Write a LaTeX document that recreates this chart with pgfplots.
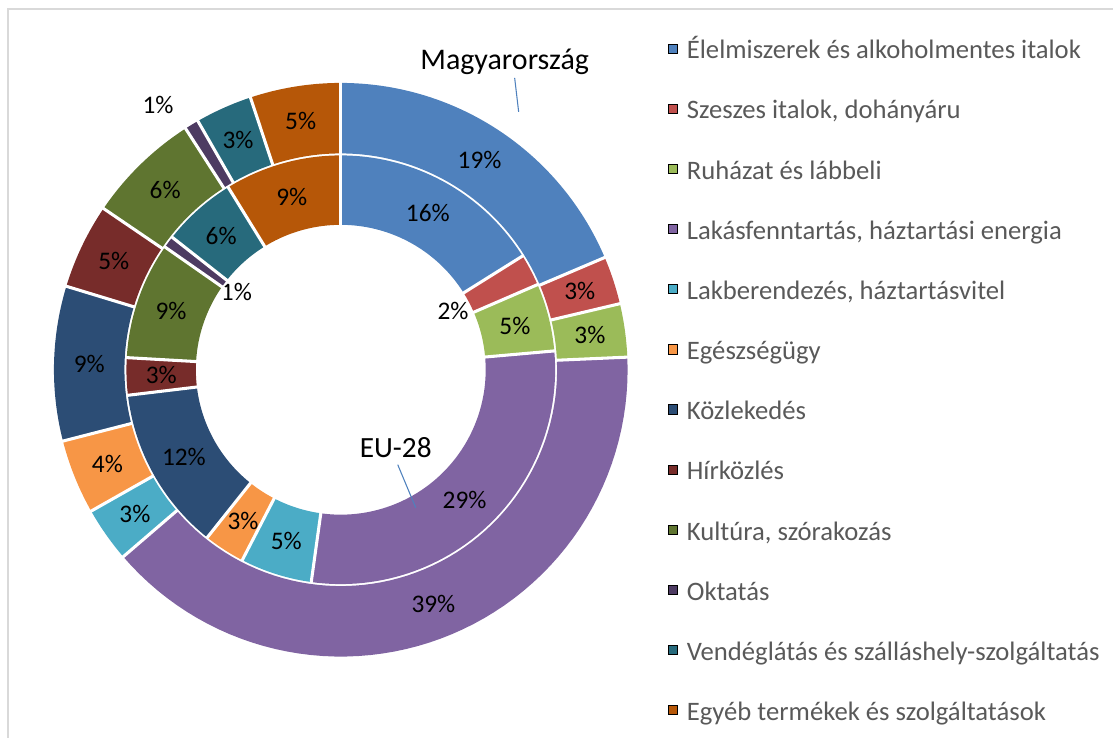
\documentclass[border=0pt]{standalone}
\usepackage{fontspec}
\setmainfont{Carlito}
\usepackage{pgfplots}
\usepackage{pgfplotstable}
\pgfplotsset{compat=1.18}

\definecolor{c0}{HTML}{4F81BD}
\definecolor{c1}{HTML}{C0504D}
\definecolor{c2}{HTML}{9BBB59}
\definecolor{c3}{HTML}{8064A2}
\definecolor{c4}{HTML}{4BACC6}
\definecolor{c5}{HTML}{F79646}
\definecolor{c6}{HTML}{2C4D75}
\definecolor{c7}{HTML}{772C2A}
\definecolor{c8}{HTML}{5F7530}
\definecolor{c9}{HTML}{4D3B62}
\definecolor{c10}{HTML}{276A7C}
\definecolor{c11}{HTML}{B65708}
\definecolor{legtext}{HTML}{595959}
\definecolor{frame}{HTML}{D9D9D9}

% shares in percent: hu = Magyarország (outer ring), eu = EU-28 (inner ring)
% hur/eur: label radius, hua/eua: label angle shift (layout only)
\pgfplotstableread{
hu    eu    hur     hua  eur     eua
18.6  16.1  251.75  0    179.75  0
2.7   2.4   251.75  0    127     0
3.0   5.1   251.75  0    179.75  0
39.4  28.6  251.75  0    179.75  0
3.1   5.4   251.75  0    179.75  0
4.2   3.1   251.75  0    179.75  0
8.7   12.4  251.75  0    179.75  0
4.8   2.8   251.75  0    179.75  0
6.4   8.8   251.75  0    179.75  0
0.8   0.9   322     3.3  130     0
3.2   5.6   251.75  0    179.75  0
5.1   8.8   251.75  0    179.75  0
}\shares

\tikzset{lbl/.style={font=\fontsize{19}{21}\selectfont, text=black, inner sep=0pt}}

\begin{document}
\begin{tikzpicture}
\begin{axis}[
    x=0.75pt, y=0.75pt,
    xmin=-341, xmax=773, ymin=-368, ymax=370,
    hide axis, clip=false,
    legend image code/.code={\fill[#1] (0pt,-0.2pt) rectangle (6.9pt,6.7pt);},
    legend style={at={(axis cs:327,329.5)}, anchor=north west, draw=none, fill=none,
        inner sep=0pt, row sep=27.15pt, text=legtext,
        font=\fontsize{20}{22}\selectfont,
        nodes={inner sep=0pt, text height=13.5pt, text depth=4.5pt},
        /tikz/every odd column/.append style={column sep=7pt}},
    legend cell align=left,
]
% ring segments and labels
\def\cumhu{0}\def\cumeu{0}
\pgfplotsforeachungrouped \i in {0,...,11}{%
  \pgfplotstablegetelem{\i}{hu}\of\shares \let\vhu\pgfplotsretval
  \pgfplotstablegetelem{\i}{hur}\of\shares \let\rhu\pgfplotsretval
  \pgfplotstablegetelem{\i}{hua}\of\shares \let\ahu\pgfplotsretval
  \pgfmathsetmacro\a{90-3.6*\cumhu}
  \pgfmathsetmacro\b{90-3.6*(\cumhu+\vhu)}
  \pgfmathsetmacro\m{(\a+\b)/2+\ahu}
  \pgfmathsetmacro\lx{\rhu*cos(\m)}
  \pgfmathsetmacro\ly{\rhu*sin(\m)}
  \pgfmathtruncatemacro\lab{round(\vhu)}
  \edef\cmd{\noexpand\addplot[draw=c\i, line width=52.9pt, domain=\b:\a, samples=60, data cs=polar, forget plot] {251.75};
    \noexpand\node[lbl] at (axis cs:\lx,\ly) {\lab\noexpand\%};}%
  \cmd
  \pgfmathsetmacro\cumhu{\cumhu+\vhu}
  %
  \pgfplotstablegetelem{\i}{eu}\of\shares \let\veu\pgfplotsretval
  \pgfplotstablegetelem{\i}{eur}\of\shares \let\reu\pgfplotsretval
  \pgfplotstablegetelem{\i}{eua}\of\shares \let\aeu\pgfplotsretval
  \pgfmathsetmacro\a{90-3.6*\cumeu}
  \pgfmathsetmacro\b{90-3.6*(\cumeu+\veu)}
  \pgfmathsetmacro\m{(\a+\b)/2+\aeu}
  \pgfmathsetmacro\lx{\reu*cos(\m)}
  \pgfmathsetmacro\ly{\reu*sin(\m)}
  \pgfmathtruncatemacro\lab{round(\veu)}
  \edef\cmd{\noexpand\addplot[draw=c\i, line width=52.1pt, domain=\b:\a, samples=60, data cs=polar, forget plot] {179.75};
    \noexpand\node[lbl] at (axis cs:\lx,\ly) {\lab\noexpand\%};}%
  \cmd
  \pgfmathsetmacro\cumeu{\cumeu+\veu}
}
% white separators between segments
\def\cumhu{0}\def\cumeu{0}
\pgfplotsforeachungrouped \i in {0,...,11}{%
  \pgfplotstablegetelem{\i}{hu}\of\shares \let\vhu\pgfplotsretval
  \pgfplotstablegetelem{\i}{eu}\of\shares \let\veu\pgfplotsretval
  \pgfmathsetmacro\a{90-3.6*\cumhu}
  \pgfmathsetmacro\c{90-3.6*\cumeu}
  \edef\cmd{\noexpand\addplot[draw=white, line width=2.3pt, data cs=polar, forget plot] coordinates {(\a,215.5) (\a,292)};
    \noexpand\addplot[draw=white, line width=2.3pt, data cs=polar, forget plot] coordinates {(\c,140) (\c,215.5)};}%
  \cmd
  \pgfmathsetmacro\cumhu{\cumhu+\vhu}
  \pgfmathsetmacro\cumeu{\cumeu+\veu}
}

\addlegendimage{fill=c0}\addlegendentry{Élelmiszerek és alkoholmentes italok}
\addlegendimage{fill=c1}\addlegendentry{Szeszes italok, dohányáru}
\addlegendimage{fill=c2}\addlegendentry{Ruházat és lábbeli}
\addlegendimage{fill=c3}\addlegendentry{Lakásfenntartás, háztartási energia}
\addlegendimage{fill=c4}\addlegendentry{Lakberendezés, háztartásvitel}
\addlegendimage{fill=c5}\addlegendentry{Egészségügy}
\addlegendimage{fill=c6}\addlegendentry{Közlekedés}
\addlegendimage{fill=c7}\addlegendentry{Hírközlés}
\addlegendimage{fill=c8}\addlegendentry{Kultúra, szórakozás}
\addlegendimage{fill=c9}\addlegendentry{Oktatás}
\addlegendimage{fill=c10}\addlegendentry{Vendéglátás és szálláshely-szolgáltatás}
\addlegendimage{fill=c11}\addlegendentry{Egyéb termékek és szolgáltatások}

% series names with leader lines
\node[font=\fontsize{22.5}{25}\selectfont, inner sep=0pt] at (axis cs:164,308) {Magyarország};
\draw[c0, line width=0.8pt] (axis cs:174,292) -- (axis cs:178,258);
\node[font=\fontsize{22}{25}\selectfont, inner sep=0pt] at (axis cs:55,-78) {EU-28};
\draw[c0, line width=0.8pt] (axis cs:57,-95) -- (axis cs:75,-138);

% chart frame (left and top edges visible)
\draw[frame, line width=1.1pt] (axis cs:-333,-368) -- (axis cs:-333,361) -- (axis cs:773,361);
\path (axis cs:-341,-368) rectangle (axis cs:773,370);
\end{axis}
\end{tikzpicture}
\end{document}
